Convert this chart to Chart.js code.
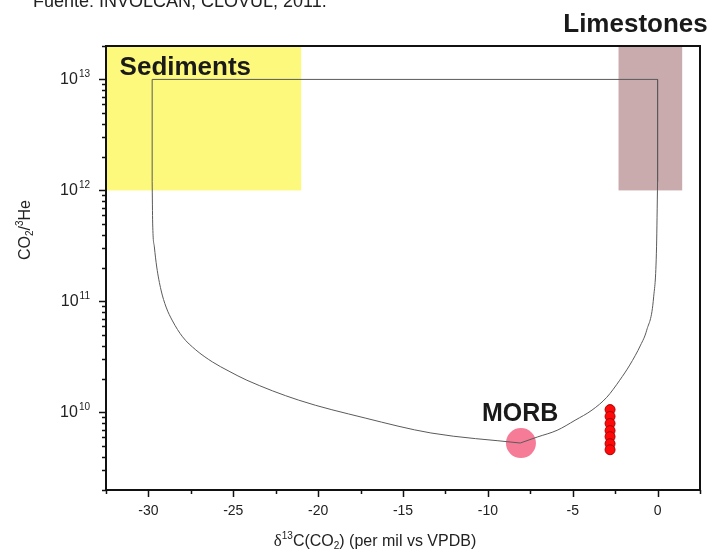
<!DOCTYPE html>
<html>
<head>
<meta charset="utf-8">
<script src="https://cdn.jsdelivr.net/npm/chart.js@4/dist/chart.umd.min.js"></script>
<style>
  html, body { margin: 0; padding: 0; background: #fff; }
  canvas { display: block; }
</style>
</head>
<body>
<canvas id="chart" width="715" height="553"></canvas>
<script>
// data
const xTicks = [-30, -25, -20, -15, -10, -5, 0];
const yDecades = [1e10, 1e11, 1e12, 1e13];

// mixing curve (delta13C, CO2/3He)
const frameLineX = [-29.78, -29.78, 0, 0];
const frameLineY = [1.2e12, 1e13, 1e13, 1.2e12];
const leftBranchX = [-29.78, -29.75, -29.65, -29.51, -29.26, -28.96, -28.58, -27.99, -27.21, -26.23, -25.25, -24.2, -21.15, -17.23, -13.36, -8.09];
const leftBranchY = [1.2e12, 5.08e11, 3.09e11, 2.04e11, 1.27e11, 8.9e10, 6.67e10, 4.8e10, 3.66e10, 2.85e10, 2.35e10, 1.95e10, 1.29e10, 8.9e9, 6.53e9, 5.3e9];
const rightBranchX = [-8.09, -7.09, -5.92, -4.86, -3.86, -2.99, -2.23, -1.64, -1.0, -0.64, -0.23, -0.06, 0];
const rightBranchY = [5.3e9, 6.0e9, 6.9e9, 8.5e9, 1.05e10, 1.37e10, 1.95e10, 2.67e10, 4.04e10, 5.5e10, 1.1e11, 3.1e11, 1.2e12];

// end members and samples
const morbX = [-8.05];
const morbY = [5.3e9];
const sampleX = [-2.8, -2.8, -2.8, -2.8, -2.8, -2.8, -2.8];
const sampleY = [1.06e10, 9.2e9, 7.95e9, 6.86e9, 6.05e9, 5.23e9, 4.61e9];

// source fields [xmin, xmax], [ymin, ymax]
const sedimentsX = [-32.5, -21];
const sedimentsY = [1e12, 2e13];
const limestonesX = [-2.3, 1.45];
const limestonesY = [1e12, 2e13];

const pts = (xs, ys) => xs.map((x, i) => ({ x: x, y: ys[i] }));

const SANS = '"Liberation Sans", Arial, Helvetica, sans-serif';

// draw text made of pieces with their own size / offset (sub & superscripts)
function richText(ctx, parts, x, y, align) {
  let total = 0;
  parts.forEach(p => {
    ctx.font = (p.bold ? 'bold ' : '') + p.size + 'px ' + (p.family || SANS);
    p.w = ctx.measureText(p.t).width + (p.gap || 0);
    total += p.w;
  });
  let cx = align === 'right' ? x - total : align === 'center' ? x - total / 2 : x;
  ctx.textAlign = 'left';
  ctx.textBaseline = 'alphabetic';
  parts.forEach(p => {
    ctx.font = (p.bold ? 'bold ' : '') + p.size + 'px ' + (p.family || SANS);
    ctx.fillText(p.t, cx, y + (p.dy || 0));
    cx += p.w;
  });
}

const decor = {
  id: 'decor',
  beforeDatasetsDraw(chart) {
    const ctx = chart.ctx;
    const xs = chart.scales.x, ys = chart.scales.y;
    const box = (bx, by, color) => {
      const x0 = xs.getPixelForValue(bx[0]), x1 = xs.getPixelForValue(bx[1]);
      const y0 = ys.getPixelForValue(by[1]), y1 = ys.getPixelForValue(by[0]);
      ctx.fillStyle = color;
      ctx.fillRect(x0, y0, x1 - x0, y1 - y0);
    };
    ctx.save();
    const a = chart.chartArea;
    ctx.beginPath();
    ctx.rect(a.left, a.top, a.right - a.left, a.bottom - a.top);
    ctx.clip();
    box(sedimentsX, sedimentsY, '#fcf97c');
    box(limestonesX, limestonesY, '#c9abae');
    ctx.restore();
  },
  afterDraw(chart) {
    const ctx = chart.ctx;
    const xs = chart.scales.x, ys = chart.scales.y;
    const a = chart.chartArea;
    ctx.save();

    // frame
    ctx.strokeStyle = '#111';
    ctx.lineWidth = 2;
    ctx.strokeRect(a.left, a.top, a.right - a.left, a.bottom - a.top);

    // x tick marks (major every 5, minor every 2.5)
    ctx.lineWidth = 1.5;
    ctx.beginPath();
    for (let v = xs.min; v <= xs.max + 1e-9; v += 2.5) {
      const px = Math.round(xs.getPixelForValue(v)) + 0.5;
      const len = Math.abs(v % 5) < 1e-9 ? 7 : 4;
      ctx.moveTo(px, a.bottom);
      ctx.lineTo(px, a.bottom + len);
    }
    // y tick marks (log, major at decades)
    for (let d = 1e9; d <= 1e13; d *= 10) {
      for (let m = 1; m <= 9; m++) {
        const v = m * d;
        if (v < ys.min * 0.999 || v > ys.max * 1.001) continue;
        const py = Math.round(ys.getPixelForValue(v)) + 0.5;
        const len = m === 1 ? 7 : 4;
        ctx.moveTo(a.left, py);
        ctx.lineTo(a.left - len, py);
      }
    }
    ctx.stroke();

    // y tick labels 10^n
    ctx.fillStyle = '#222';
    yDecades.forEach(v => {
      const py = ys.getPixelForValue(v);
      const e = String(Math.round(Math.log10(v)));
      richText(ctx, [
        { t: '10', size: 16, gap: 1 },
        { t: e, size: 10, dy: -7 }
      ], a.left - 16, py + 5, 'right');
    });

    // axis titles
    ctx.fillStyle = '#222';
    richText(ctx, [
      { t: 'δ', size: 17, family: '"Liberation Serif", "Times New Roman", serif' },
      { t: '13', size: 10, dy: -7 },
      { t: 'C(CO', size: 16 },
      { t: '2', size: 10, dy: 3 },
      { t: ') (per mil vs VPDB)', size: 16 }
    ], 375, 546, 'center');

    ctx.save();
    ctx.translate(30, 230);
    ctx.rotate(-Math.PI / 2);
    richText(ctx, [
      { t: 'CO', size: 16 },
      { t: '2', size: 10, dy: 3 },
      { t: '/', size: 16 },
      { t: '3', size: 10, dy: -7 },
      { t: 'He', size: 16 }
    ], 0, 0, 'center');
    ctx.restore();

    // field labels
    ctx.fillStyle = '#1a1a1a';
    richText(ctx, [{ t: 'Sediments', size: 26, bold: true }],
      xs.getPixelForValue(-31.7), ys.getPixelForValue(1.1e13), 'left');
    richText(ctx, [{ t: 'Limestones', size: 26, bold: true }],
      xs.getPixelForValue(-1.3), ys.getPixelForValue(2.65e13), 'center');
    richText(ctx, [{ t: 'MORB', size: 25, bold: true }],
      xs.getPixelForValue(-8.1), ys.getPixelForValue(8.4e9), 'center');

    // source caption, cut by the top edge as in the original
    ctx.fillStyle = '#222';
    richText(ctx, [{ t: 'Fuente: INVOLCAN, CLOVUL, 2011.', size: 18 }], 33, 7, 'left');

    ctx.restore();
  }
};

const curveStyle = {
  showLine: true,
  borderColor: '#5a5a5a',
  borderWidth: 1,
  pointRadius: 0,
  cubicInterpolationMode: 'monotone',
  order: 1
};

new Chart(document.getElementById('chart'), {
  type: 'scatter',
  data: {
    datasets: [
      Object.assign({ label: 'frame', data: pts(frameLineX, frameLineY) }, curveStyle, { cubicInterpolationMode: 'default', tension: 0 }),
      Object.assign({ label: 'left', data: pts(leftBranchX, leftBranchY) }, curveStyle),
      Object.assign({ label: 'right', data: pts(rightBranchX, rightBranchY) }, curveStyle),
      {
        label: 'MORB',
        data: pts(morbX, morbY),
        pointRadius: 15,
        backgroundColor: 'rgba(244,112,142,0.92)',
        borderWidth: 0,
        order: 2
      },
      {
        label: 'samples',
        data: pts(sampleX, sampleY),
        pointRadius: 5,
        backgroundColor: '#ff0a0a',
        borderColor: '#a80000',
        borderWidth: 1,
        order: 0
      }
    ]
  },
  options: {
    responsive: false,
    animation: false,
    devicePixelRatio: 1,
    layout: { padding: { top: 46, right: 11, left: 0, bottom: 0 } },
    plugins: { legend: { display: false }, tooltip: { enabled: false } },
    scales: {
      x: {
        type: 'linear',
        min: -32.5,
        max: 2.5,
        afterBuildTicks: s => { s.ticks = xTicks.map(v => ({ value: v })); },
        afterFit: s => { s.height = 63; s.paddingLeft = 0; s.paddingRight = 0; },
        grid: { display: false, drawTicks: false },
        border: { display: false },
        ticks: {
          color: '#222',
          padding: 13,
          maxRotation: 0,
          font: { size: 14, family: SANS }
        }
      },
      y: {
        type: 'logarithmic',
        min: 2e9,
        max: 2e13,
        afterFit: s => { s.width = 106; s.paddingTop = 0; s.paddingBottom = 0; },
        grid: { display: false, drawTicks: false },
        border: { display: false },
        ticks: { display: false }
      }
    }
  },
  plugins: [decor]
});
</script>
</body>
</html>
